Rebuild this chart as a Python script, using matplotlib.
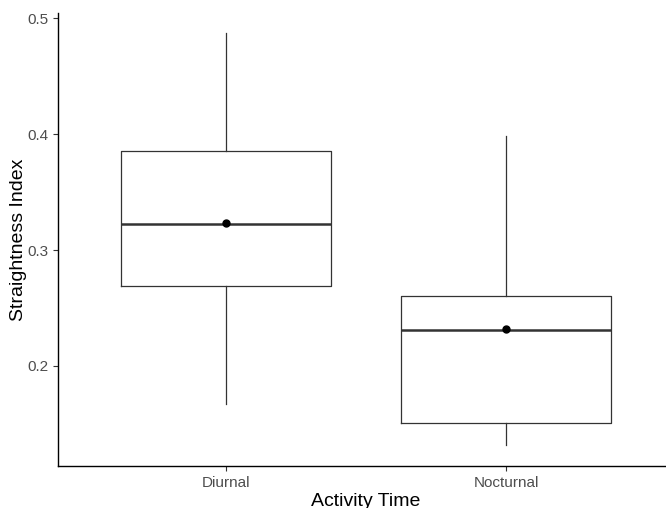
import matplotlib
matplotlib.use("Agg")
import matplotlib.pyplot as plt

plt.rcParams['font.family'] = ['Liberation Sans', 'DejaVu Sans']

groups = ['Diurnal', 'Nocturnal']
whisker_low = [0.1667, 0.1313]
q1 = [0.2690, 0.1506]
median = [0.3226, 0.2313]
q3 = [0.3857, 0.2607]
whisker_high = [0.4872, 0.3984]
mean = [0.3230, 0.2315]

stats = []
for i, g in enumerate(groups):
    stats.append({'label': g, 'whislo': whisker_low[i], 'q1': q1[i],
                  'med': median[i], 'q3': q3[i], 'whishi': whisker_high[i],
                  'fliers': []})

fig = plt.figure(figsize=(6.66, 5.08), dpi=100)
ax = fig.add_axes([58 / 666, 42 / 508, 616 / 666, 453.3 / 508])

pos = [1, 2]
ax.bxp(stats, positions=pos, widths=0.75, showcaps=False, showfliers=False,
       boxprops=dict(color='#333333', linewidth=0.9),
       whiskerprops=dict(color='#333333', linewidth=0.9),
       medianprops=dict(color='#333333', linewidth=1.8))
ax.plot(pos, mean, 'o', color='black', markersize=5, zorder=5)

ax.set_xlim(0.4, 2.6)
ax.set_ylim(0.1135, 0.505)
ax.set_yticks([0.2, 0.3, 0.4, 0.5])
ax.set_xticks(pos)
ax.set_xticklabels(groups)

for s in ['top', 'right']:
    ax.spines[s].set_visible(False)
ax.spines['left'].set_color('black')
ax.spines['bottom'].set_color('black')
ax.spines['left'].set_linewidth(1.0)
ax.spines['bottom'].set_linewidth(1.0)
ax.tick_params(colors='#333333', labelcolor='#4D4D4D', labelsize=11, length=3.5, width=0.8)

ax.set_xlabel('Activity Time', fontsize=14, labelpad=2)
ax.set_ylabel('Straightness Index', fontsize=14, labelpad=0)

fig.savefig('out.png', dpi=100)
